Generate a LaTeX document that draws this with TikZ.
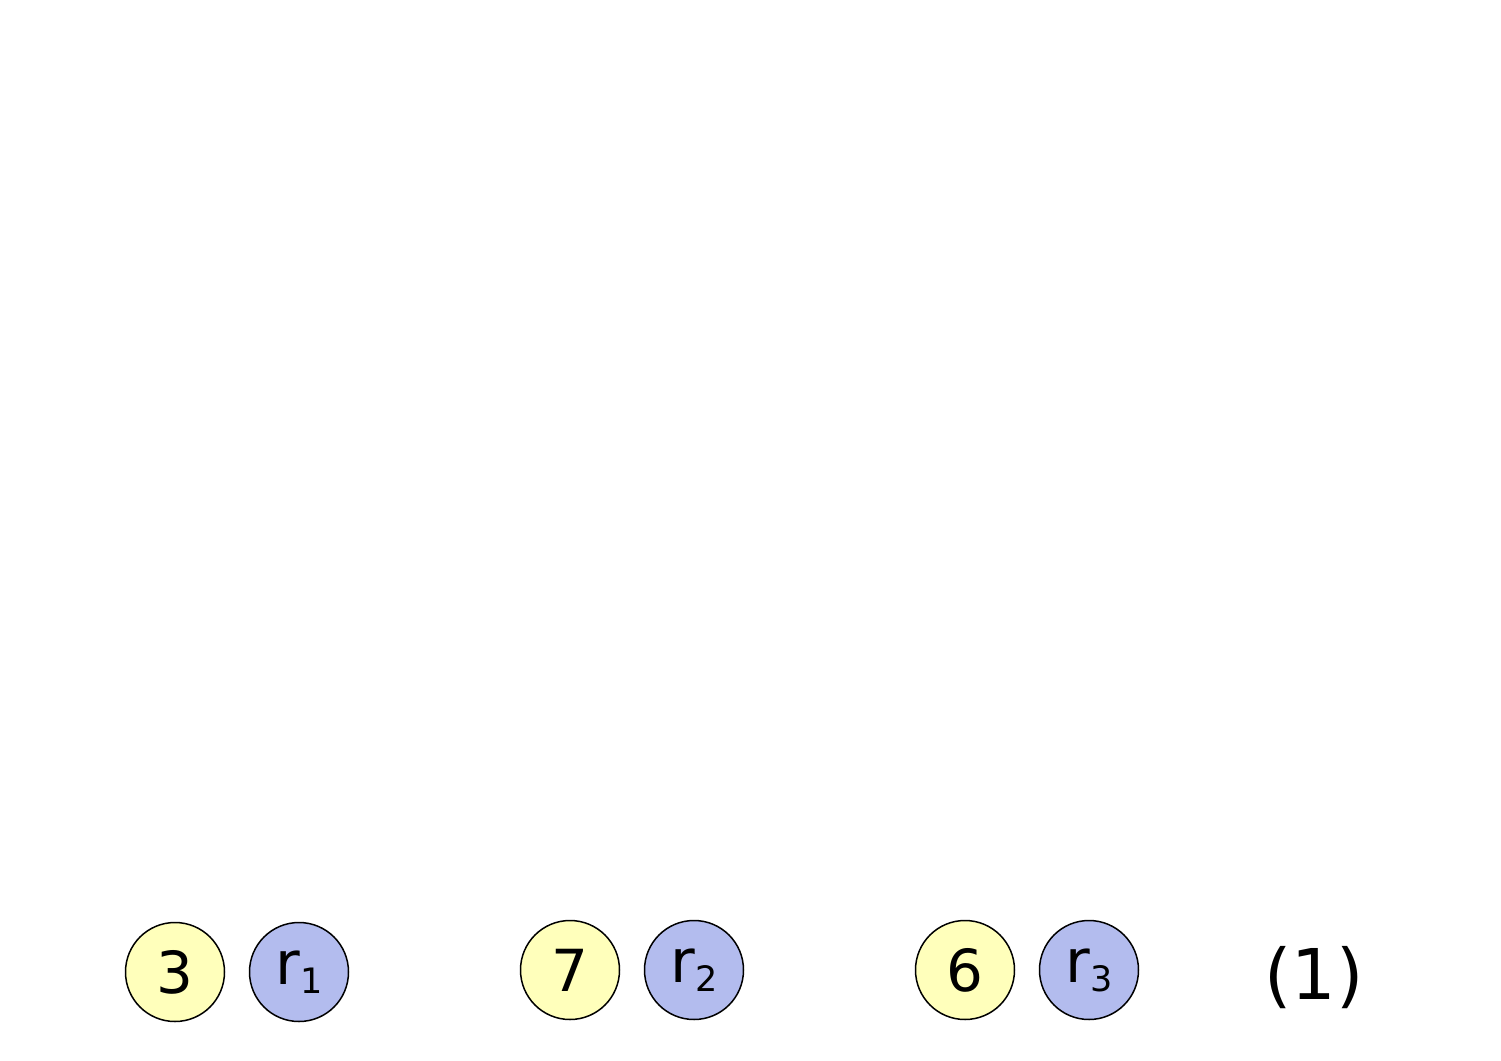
\documentclass[tikz,border=0pt]{standalone}
\usepackage{fontspec}
\setmainfont{DejaVu Sans}
\definecolor{pyellow}{RGB}{255,255,187}
\definecolor{pblue}{RGB}{179,188,238}
\tikzset{
  val/.style={circle, draw=black, line width=0.75pt, fill=pyellow, minimum size=49.5pt, inner sep=0pt, font=\fontsize{29}{31}\selectfont},
  reg/.style={circle, draw=black, line width=0.75pt, fill=pblue, minimum size=49.5pt, inner sep=0pt, font=\fontsize{30}{32}\selectfont},
}
\newcommand{\rsub}[1]{r\raisebox{-4.5pt}{\fontsize{17.5}{18}\selectfont #1}}
\begin{document}
\begin{tikzpicture}[x=0.5pt,y=-0.5pt]
\useasboundingbox (0,0) rectangle (1501,1061);
\node[val] (v1) at (175,972) {3};
\node[reg] (r1) at (299,972) {\rsub{1}};
\node[val] (v2) at (570,970) {7};
\node[reg] (r2) at (694,970) {\rsub{2}};
\node[val] (v3) at (965,970) {6};
\node[reg] (r3) at (1089,970) {\rsub{3}};
\node[font=\fontsize{35}{38}\selectfont] (lbl) at (1314,978) {(1)};
\end{tikzpicture}
\end{document}
